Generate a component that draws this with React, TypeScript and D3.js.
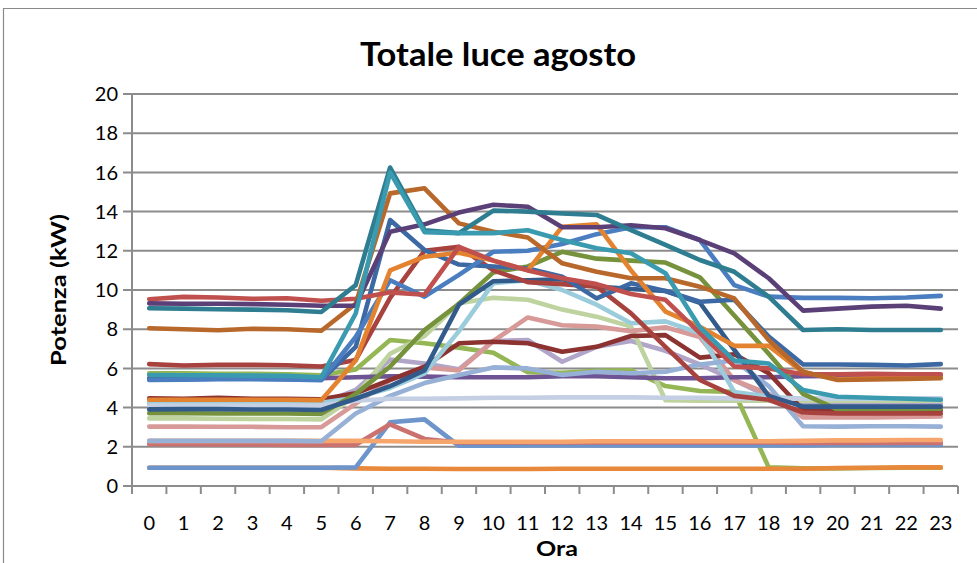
import React from "react";
import * as d3 from "d3";

const hours = Array.from({ length: 24 }, (_, i) => String(i));
const yTicks = [0, 2, 4, 6, 8, 10, 12, 14, 16, 18, 20];

const orange = [0.93,0.93,0.93,0.93,0.93,0.93,0.9,0.88,0.88,0.87,0.87,0.87,0.88,0.88,0.88,0.88,0.88,0.88,0.88,0.88,0.92,0.93,0.95,0.95];
const blueLight = [0.93,0.93,0.93,0.93,0.93,0.93,0.95,3.25,3.4,2.05,2.05,2.07,2.07,2.07,2.07,2.07,2.07,2.07,2.07,2.07,2.09,2.09,2.09,2.09];
const redPink = [2.13,2.13,2.12,2.12,2.1,2.1,2.1,3.15,2.4,2.22,2.22,2.22,2.22,2.22,2.22,2.22,2.22,2.22,2.22,2.2,2.2,2.2,2.2,2.2];
const orangeLight = [2.3,2.3,2.3,2.3,2.3,2.3,2.3,2.28,2.26,2.26,2.26,2.26,2.26,2.28,2.28,2.28,2.28,2.28,2.28,2.3,2.33,2.33,2.35,2.35];
const lavender = [4.2,4.2,4.2,4.2,4.2,4.2,4.9,6.45,6.25,5.95,7.4,7.45,6.34,7.1,7.4,6.9,6.2,5.4,4.55,4.2,4.2,4.2,4.2,4.2];
const lightGreen = [3.45,3.45,3.43,3.42,3.42,3.4,4.6,6.75,7.65,9.32,9.6,9.5,9.0,8.64,8.13,4.38,4.35,4.35,4.35,4.35,4.35,4.35,4.35,4.35];
const pink = [3.03,3.03,3.02,3.02,3.0,3.0,4.2,5.4,6.05,5.9,7.4,8.6,8.2,8.13,7.9,8.1,7.6,5.4,4.7,3.5,3.5,3.5,3.52,3.55];
const purple = [5.5,5.5,5.5,5.5,5.5,5.5,5.55,5.6,5.58,5.55,5.55,5.55,5.6,5.6,5.55,5.5,5.5,5.55,5.55,5.6,5.62,5.65,5.65,5.65];
const green = [5.75,5.75,5.72,5.72,5.7,5.65,5.95,7.45,7.28,7.06,6.8,5.8,5.78,5.88,5.9,5.1,4.85,4.8,0.95,0.9,0.9,0.92,0.93,0.93];
const darkRed = [4.47,4.45,4.5,4.45,4.45,4.42,4.73,5.41,6.09,7.28,7.36,7.28,6.85,7.1,7.65,7.7,6.55,6.72,5.75,3.88,3.85,3.85,3.85,3.87];
const lightBlue = [4.3,4.32,4.3,4.3,4.3,4.25,4.5,5.0,5.75,7.9,10.35,10.5,10.0,9.25,8.3,8.4,7.8,4.8,4.55,4.45,4.45,4.45,4.45,4.45];
const blueGrey = [2.3,2.3,2.3,2.3,2.3,2.28,3.7,4.6,5.25,5.66,6.05,6.0,5.66,5.83,5.75,5.83,6.2,6.4,5.1,3.05,3.03,3.05,3.05,3.03];
const pale = [4.1,4.1,4.1,4.1,4.1,4.1,4.35,4.45,4.45,4.47,4.5,4.5,4.52,4.52,4.52,4.5,4.5,4.47,4.45,4.45,4.47,4.47,4.47,4.47];
const darkGreen = [3.71,3.71,3.7,3.7,3.7,3.68,4.7,6.1,7.95,9.3,10.9,11.2,11.95,11.6,11.5,11.4,10.65,8.7,6.75,4.7,3.9,3.92,3.92,3.95];
const darkBlue = [3.91,3.92,3.92,3.9,3.9,3.88,4.45,5.1,5.9,9.25,10.45,10.5,10.55,10.17,10.05,9.95,9.35,6.95,4.6,4.05,4.05,4.05,4.05,4.05];
const redB = [6.22,6.15,6.18,6.18,6.16,6.1,6.43,9.6,12.0,12.2,11.0,10.4,10.3,10.17,8.81,7.1,5.41,4.6,4.4,3.75,3.7,3.7,3.7,3.7];
const blue2 = [5.45,5.45,5.47,5.47,5.45,5.42,7.1,13.57,12.04,11.3,11.2,11.1,10.68,9.57,10.34,9.95,9.4,9.5,7.62,6.2,6.2,6.18,6.15,6.22];
const blue = [5.41,5.42,5.45,5.45,5.43,5.4,7.6,10.5,9.66,10.77,11.95,12.0,12.35,12.85,13.2,13.2,12.55,10.25,9.66,9.6,9.6,9.58,9.62,9.7];
const orangeBright = [4.4,4.4,4.4,4.4,4.4,4.38,6.4,11.0,11.7,11.9,11.5,11.0,13.23,13.35,11.0,8.9,8.13,7.15,7.15,5.8,5.45,5.5,5.5,5.55];
const redA = [9.53,9.65,9.62,9.55,9.58,9.45,9.55,9.88,9.76,12.2,11.5,11.0,10.6,10.3,9.8,9.5,7.8,6.1,6.0,5.7,5.7,5.72,5.7,5.7];
const orangeBrown = [8.05,8.0,7.95,8.02,8.0,7.92,9.3,14.93,15.19,13.4,12.97,12.68,11.36,10.93,10.6,10.6,10.17,9.57,7.45,5.83,5.41,5.43,5.46,5.5];
const darkPurple = [9.32,9.3,9.3,9.28,9.25,9.2,9.2,12.97,13.35,13.95,14.35,14.25,13.2,13.2,13.3,13.15,12.55,11.87,10.6,8.95,9.05,9.15,9.2,9.05];
const tealDark = [9.07,9.05,9.02,9.0,8.97,8.88,10.25,16.25,13.05,12.9,14.05,14.0,13.9,13.83,13.06,12.3,11.53,10.93,9.66,7.96,8.0,7.96,7.96,7.96];
const tealLight = [5.66,5.65,5.65,5.63,5.62,5.55,8.8,16.0,12.95,12.9,12.9,13.05,12.55,12.13,11.87,10.85,8.1,6.4,6.25,4.9,4.55,4.5,4.45,4.4];

const seriesList: [number[], string][] = [
  [green, "#94B654"],
  [orange, "#E8883A"],
  [blueLight, "#6D95CB"],
  [redPink, "#CB7270"],
  [orangeLight, "#F6A56C"],
  [lavender, "#B1A5C9"],
  [lightGreen, "#BED3A0"],
  [pink, "#D79A98"],
  [purple, "#6E5494"],
  [darkRed, "#8C3331"],
  [lightBlue, "#9BCCDC"],
  [blueGrey, "#97B0D6"],
  [pale, "#C4CFE4"],
  [darkGreen, "#76923C"],
  [darkBlue, "#325B8C"],
  [redB, "#A8423F"],
  [blue2, "#3C69A4"],
  [blue, "#4A7EC0"],
  [orangeBright, "#E4832F"],
  [redA, "#C0504D"],
  [orangeBrown, "#B8682A"],
  [darkPurple, "#5B4078"],
  [tealDark, "#2E7D90"],
  [tealLight, "#3A9AB0"],
];

const W = 977, H = 563;
const left = 132, right = 958, top = 94, bottom = 486;
const FONT = "Lato, 'Open Sans', sans-serif";
const GRID = "#8C8C8C";

export default function App() {
  const x = d3.scaleBand<string>().domain(hours).range([left, right]);
  const y = d3.scaleLinear().domain([0, 20]).range([bottom, top]);
  const cx = (h: string) => (x(h) as number) + x.bandwidth() / 2;
  const line = d3
    .line<number>()
    .x((_, i) => cx(hours[i]))
    .y((d) => y(d));
  const boundaries = hours.map((h) => x(h) as number).concat([right]);

  return (
    <svg
      width={W}
      height={H}
      style={{ position: "absolute", left: 0, top: 0, background: "#fff" }}
    >
      <rect x={0} y={0} width={W} height={H} fill="#fff" />
      <path d={`M3.5,${H} V8.5 H${W}`} fill="none" stroke="#8A8A8A" strokeWidth={1.2} />
      <text
        x={498}
        y={66}
        textAnchor="middle"
        fontFamily={FONT}
        fontWeight={700}
        fontSize={32}
        textLength={276}
        lengthAdjust="spacingAndGlyphs"
        fill="#000"
      >
        Totale luce agosto
      </text>
      {yTicks.map((t) => (
        <g key={t}>
          <line x1={left - 9} x2={right} y1={y(t)} y2={y(t)} stroke={GRID} strokeWidth={2} />
          <text
            x={118}
            y={y(t)}
            dy="0.36em"
            textAnchor="end"
            fontFamily={FONT}
            fontSize={20}
            fill="#000"
          >
            {t}
          </text>
        </g>
      ))}
      <line x1={left} x2={left} y1={top} y2={bottom + 8} stroke={GRID} strokeWidth={2} />
      {boundaries.map((b, i) => (
        <line key={i} x1={b} x2={b} y1={bottom} y2={bottom + 8} stroke={GRID} strokeWidth={2} />
      ))}
      {hours.map((h) => (
        <text
          key={h}
          x={cx(h)}
          y={530}
          textAnchor="middle"
          fontFamily={FONT}
          fontSize={20}
          fill="#000"
        >
          {h}
        </text>
      ))}
      <text
        x={557}
        y={556}
        textAnchor="middle"
        fontFamily={FONT}
        fontWeight={700}
        fontSize={21}
        textLength={42}
        lengthAdjust="spacingAndGlyphs"
        fill="#000"
      >
        Ora
      </text>
      <text
        transform="translate(66,290) rotate(-90)"
        textAnchor="middle"
        fontFamily={FONT}
        fontWeight={700}
        fontSize={21}
        textLength={152}
        lengthAdjust="spacingAndGlyphs"
        fill="#000"
      >
        Potenza (kW)
      </text>
      <g fill="none" strokeWidth={4.6} strokeLinejoin="round" strokeLinecap="round">
        {seriesList.map(([vals, color], i) => (
          <path key={i} d={line(vals) || ""} stroke={color} />
        ))}
      </g>
    </svg>
  );
}
